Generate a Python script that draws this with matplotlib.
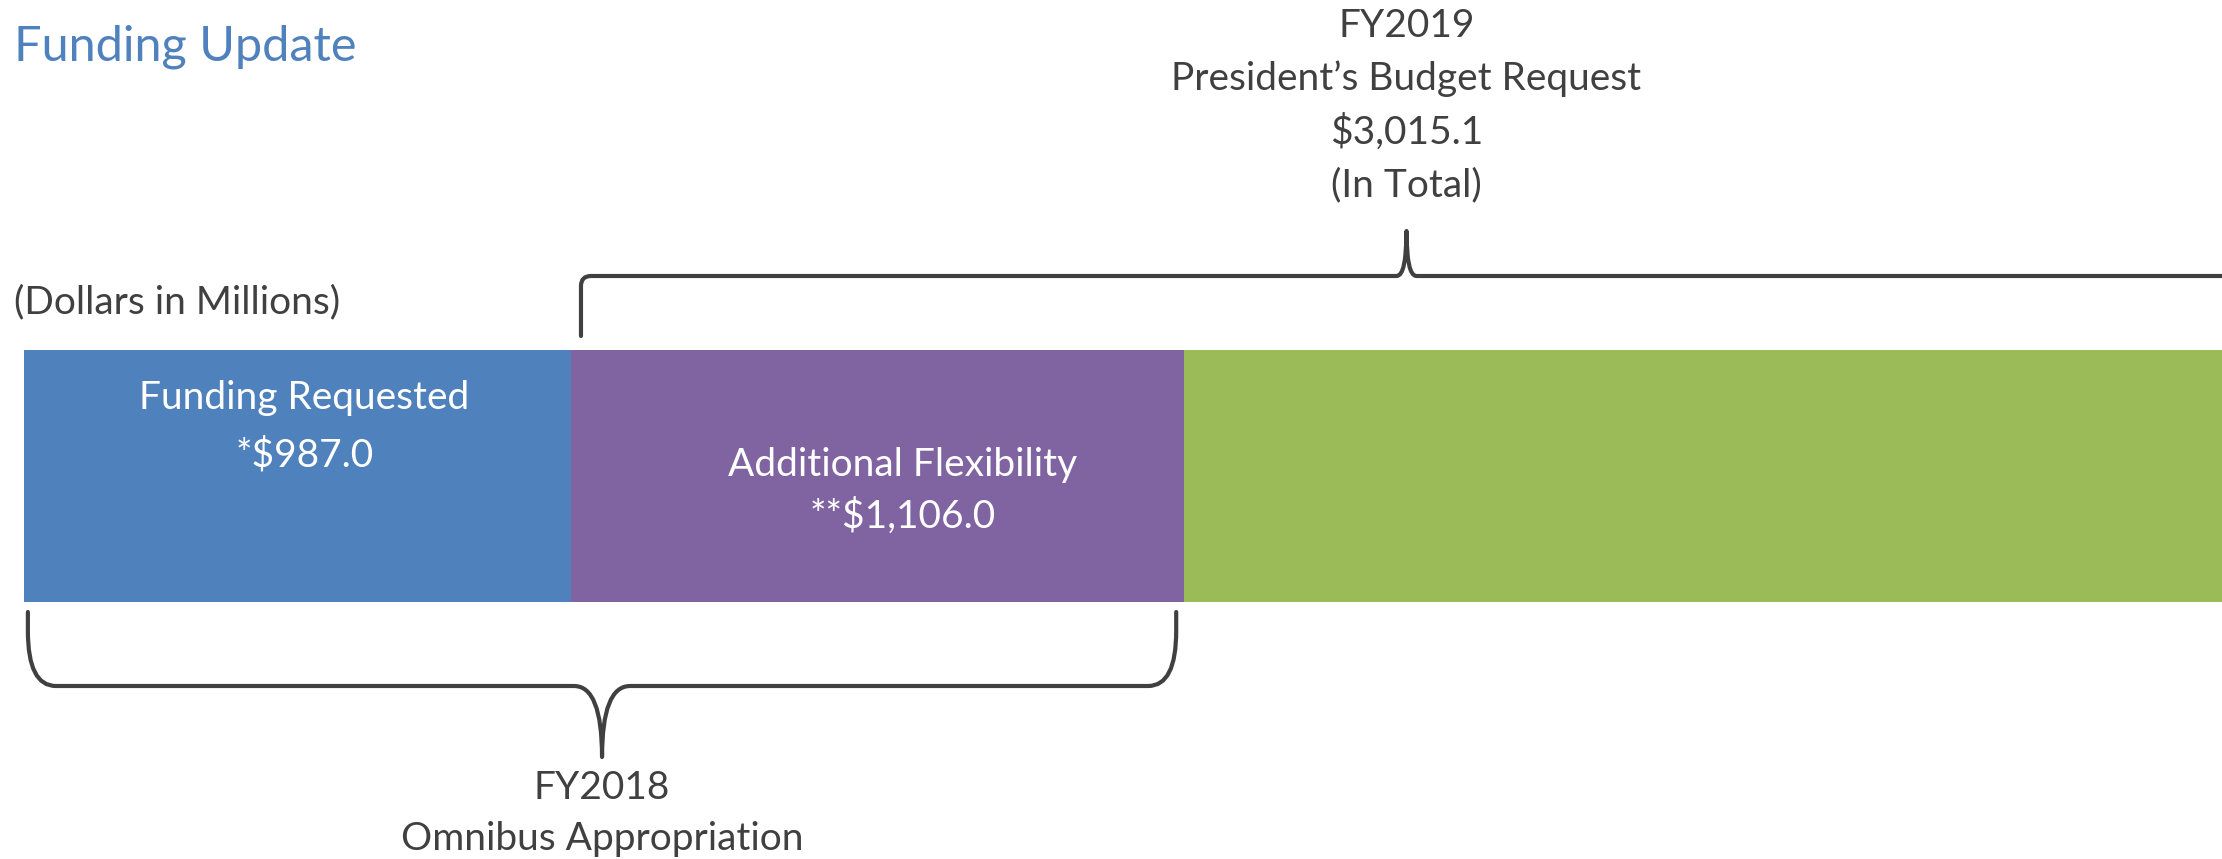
import matplotlib

matplotlib.use("Agg")
import matplotlib.pyplot as plt
import numpy as np
from matplotlib.patches import PathPatch
from matplotlib.path import Path

# --- data -------------------------------------------------------------------
seg_names = ["Funding Requested", "Additional Flexibility", ""]
seg_amounts = ["*$987.0", "**$1,106.0", ""]
seg_values = [987.0, 1106.0, 1909.1]
seg_colors = ["#4F81BD", "#8064A2", "#9BBB59"]

fy18_lines = ["FY2018", "Omnibus Appropriation"]
fy19_lines = ["FY2019", "President\u2019s Budget Request", "$3,015.1", "(In Total)"]
fy19_total = 3015.1

TITLE = "Funding Update"
UNITS = "(Dollars in Millions)"

# --- layout -----------------------------------------------------------------
W, H, DPI = 2222, 859, 100
XMIN, XMAX = -43.3, 3966.0
PPU = W / (XMAX - XMIN)  # pixels per dollar-million
TEXT = "#404040"
FS = 28

plt.rcParams["font.family"] = ["Lato", "DejaVu Sans"]

fig = plt.figure(figsize=(W / DPI, H / DPI), dpi=DPI)
ax = fig.add_axes([0, 0, 1, 1])
ax.set_xlim(XMIN, XMAX)
ax.set_ylim(H, 0)
ax.axis("off")

lefts = np.concatenate([[0.0], np.cumsum(seg_values)[:-1]])
ax.barh([476] * len(seg_values), seg_values, left=lefts, height=252,
        color=seg_colors, linewidth=0)

# segment labels (two lines each); text boxes sit slightly right of centre
seg_y = [(398, 455), (465, 516), (0, 0)]
seg_dx = [7, 25, 0]  # px
for name, amt, left, val, (y1, y2), dx in zip(seg_names, seg_amounts, lefts,
                                              seg_values, seg_y, seg_dx):
    if not name:
        continue
    xc = left + val / 2 + dx / PPU
    ax.text(xc, y1, name, color="white", fontsize=FS, ha="center", va="center")
    ax.text(xc, y2, amt, color="white", fontsize=FS, ha="center", va="center")


def brace(x0, x1, y_end, y_line, y_tip, rx, ry, c):
    """Curly brace between x0 and x1 (data units), drawn in pixel y."""
    rx, c = rx / PPU, c / PPU
    s = 1 if y_line > y_end else -1
    xc = (x0 + x1) / 2
    verts = [
        (x0, y_end), (x0, y_line - s * ry),
        (x0, y_line), (x0 + rx, y_line),
        (xc - c, y_line),
        (xc, y_line), (xc, y_tip),
        (xc, y_line), (xc + c, y_line),
        (x1 - rx, y_line),
        (x1, y_line), (x1, y_line - s * ry),
        (x1, y_end),
    ]
    codes = [Path.MOVETO, Path.LINETO, Path.CURVE3, Path.CURVE3, Path.LINETO,
             Path.CURVE3, Path.CURVE3, Path.CURVE3, Path.CURVE3, Path.LINETO,
             Path.CURVE3, Path.CURVE3, Path.LINETO]
    ax.add_patch(PathPatch(Path(verts, codes), fill=False, ec=TEXT, lw=3.0,
                           capstyle="round", joinstyle="round"))
    return xc


# FY2018 brace under blue + purple
x18 = brace(lefts[0] + 7, lefts[1] + seg_values[1] - 14, 612, 686, 757,
            rx=28, ry=55, c=28)
for i, line in enumerate(fy18_lines):
    ax.text(x18, 788 + 51 * i, line, color=TEXT, fontsize=FS,
            ha="center", va="center")

# FY2019 brace over purple + green
x19 = brace(lefts[1] + 18, lefts[1] + fy19_total - 18, 336, 276, 231,
            rx=10, ry=10, c=10)
for i, line in enumerate(fy19_lines):
    ax.text(x19, 26 + 53 * i, line, color=TEXT, fontsize=FS,
            ha="center", va="center")

ax.text(XMIN + 14 / PPU, 47, TITLE, color="#4F81BD", fontsize=35,
        ha="left", va="center")
ax.text(XMIN + 14 / PPU, 302, UNITS, color=TEXT, fontsize=FS,
        ha="left", va="center")

fig.savefig("out.png", dpi=DPI)
